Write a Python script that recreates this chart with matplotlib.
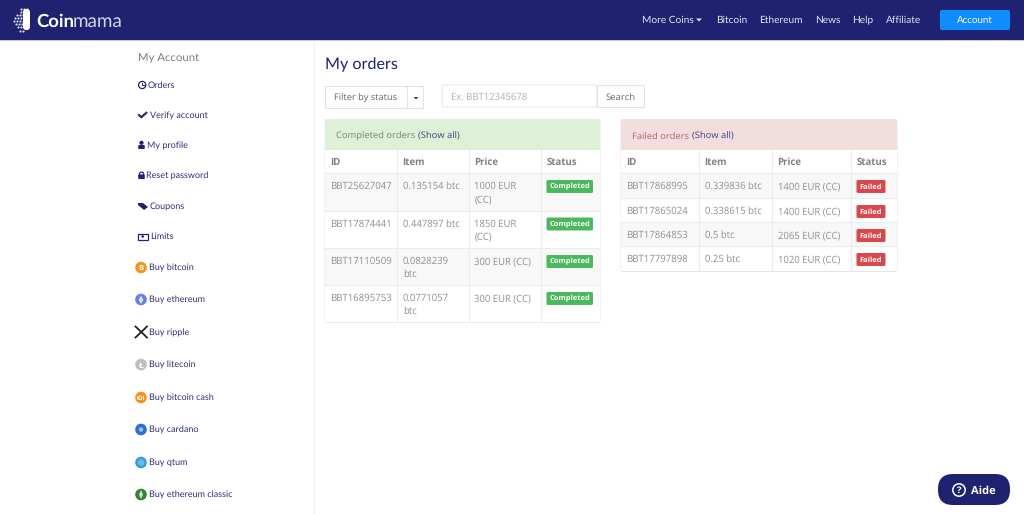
import matplotlib
matplotlib.use("Agg")
import matplotlib.pyplot as plt
from matplotlib.patches import Rectangle, FancyBboxPatch, Circle

# no hinting, the reference text is soft and spaced by fractions of a pixel
plt.rcParams["text.hinting"] = "none"

nav_labels = ["More Coins", "Bitcoin", "Ethereum", "News", "Help", "Affiliate"]
nav_x = [642, 716, 759, 815, 852, 886]

menu_labels = ["Orders", "Verify account", "My profile", "Reset password", "Coupons", "Limits",
               "Buy bitcoin", "Buy ethereum", "Buy ripple", "Buy litecoin", "Buy bitcoin cash",
               "Buy cardano", "Buy qtum", "Buy ethereum classic"]
menu_y = [85, 115, 145, 175, 206, 236, 267, 299, 332, 364, 397, 429, 462, 494]
menu_x = [148, 150, 147, 146, 150, 150, 149, 149, 149, 149, 149, 149, 149, 149]
coin_colors = ["#f7931a", "#627eea", None, "#bebebe", "#f7931a", "#2a6fd6", "#3b9ad9", "#328332"]

table_head = ["ID", "Item", "Price", "Status"]

done_ids = ["BBT25627047", "BBT17874441", "BBT17110509", "BBT16895753"]
done_items = ["0.135154 btc", "0.447897 btc", "0.0828239\nbtc", "0.0771057\nbtc"]
done_prices = ["1000 EUR\n(CC)", "1850 EUR\n(CC)", "300 EUR (CC)", "300 EUR (CC)"]
done_cols = [325, 397, 469, 541, 600]
done_rows = [173, 210.5, 248, 285, 322]

fail_ids = ["BBT17868995", "BBT17865024", "BBT17864853", "BBT17797898"]
fail_items = ["0.339836 btc", "0.338615 btc", "0.5 btc", "0.25 btc"]
fail_prices = ["1400 EUR (CC)", "1400 EUR (CC)", "2065 EUR (CC)", "1020 EUR (CC)"]
fail_cols = [621, 699, 772, 851, 897]
fail_rows = [173, 198, 222, 246, 271]

NAVY = "#1e2270"
GREY = "#8f8f8f"
SANS = "Open Sans"
NAV = "Lato"

fig = plt.figure(figsize=(10.24, 5.14), dpi=100)
ax = fig.add_axes([0, 0, 1, 1])
ax.set_xlim(0, 1024)
ax.set_ylim(514, 0)
ax.axis("off")


def box(x0, y0, x1, y1, color, edge="none", z=1, lw=0.8):
    ax.add_patch(Rectangle((x0, y0), x1 - x0, y1 - y0, fc=color, ec=edge, lw=lw, zorder=z))


def rbox(x0, y0, x1, y1, color, r=2, edge="none", z=3):
    ax.add_patch(FancyBboxPatch((x0 + r, y0 + r), x1 - x0 - 2 * r, y1 - y0 - 2 * r,
                                boxstyle=f"round,pad={r},rounding_size={r}",
                                fc=color, ec=edge, lw=0.8, zorder=z))


def label(x, y, s, size=6.85, color=GREY, family=SANS, weight="normal", ha="left", va="baseline", z=5):
    return ax.text(x, y, s, fontsize=size, color=color, family=family, weight=weight,
                   ha=ha, va=va, zorder=z)


def tri(xs, ys, color):
    ax.fill(xs, ys, fc=color, lw=0, zorder=5)


def cell(x, top, s, size=6.85):
    # wrapped cells go line by line, so each line sits on its own baseline
    for n, line in enumerate(s.split("\n")):
        label(x, top + 16 + 13 * n, line, size=size)


def draw_table(cols, rows, ids, items, prices, status, badge_color, head_color, title, title_color,
               border, badge_w, link_x):
    left, right = cols[0], cols[-1]
    rbox(left - 0.5, 119, right + 0.5, rows[-1] + 1, border, r=2, z=1)
    box(left, 150, right, rows[-1], "white", z=1.5)
    rbox(left, 119.5, right, 152, head_color, r=2, z=2)
    box(left, 149.5, right, 173, "white", z=2.5)
    label(left + 11, 138.5, title, size=6.75, color=title_color)
    label(link_x, 138.5, "(Show all)", size=6.75, color="#3f3f80")
    for c, name in zip(cols, table_head):
        label(c + 5.5, 165, name, size=6.9, color="#808080", weight="bold")
    for i in range(4):
        top, bottom = rows[i], rows[i + 1]
        if i % 2 == 0:
            box(left, top, right, bottom, "#f8f8f8", z=2.5)
        cell(cols[0] + 5.5, top, ids[i], size=6.95)
        cell(cols[1] + 6, top, items[i])
        cell(cols[2] + 5.5, top, prices[i])
        x0 = cols[3] + 5.5
        rbox(x0, top + 7, x0 + badge_w, top + 20, badge_color, r=1.5, z=4)
        label(x0 + badge_w / 2, top + 15.5, status, size=5.4, color="white", weight="bold", ha="center")
    for c in cols[1:-1]:
        ax.plot([c, c], [150, rows[-1]], color="#ececec", lw=0.8, zorder=3)
    for r in rows[:-1]:
        ax.plot([left, right], [r, r], color="#ececec", lw=0.8, zorder=3)


box(0, 0, 1024, 514, "white", z=0)

# top bar
box(0, 0, 1024, 40, NAVY, z=1)
box(0, 40, 1024, 41, "#c9cadb", z=1)

# logo
logo_x = [21, 24, 27, 21, 24, 27, 17, 20, 23, 26, 15, 18, 21, 24, 14, 17, 20, 23, 16, 19, 22, 25, 18, 21, 24, 20, 23]
logo_y = [9, 9, 9, 12, 12, 12, 15, 15, 15, 15, 18, 18, 18, 18, 21, 21, 21, 21, 24, 24, 24, 24, 27, 27, 27, 31, 31]
ax.scatter(logo_x, logo_y, s=2.5, color="#d8d9ea", lw=0, zorder=2)
rbox(23, 9, 30, 30, "white", r=3, z=2)
label(36, 27, "Coin", size=13.3, color="white", family=NAV, weight="bold")
label(72.5, 27, "mama", size=13.6, color="#d5d6e6", family=NAV)

# top nav
for x, s in zip(nav_x, nav_labels):
    label(x, 23, s, size=7.3, color="#e3e3ee", family=NAV)
tri([696, 702, 699], [18.5, 18.5, 21.5], "#e3e3ee")
rbox(940, 10, 1010, 30, "#0f8cff", r=2)
label(975, 23, "Account", size=7.0, color="white", family=NAV, ha="center")

# side menu
box(314, 41, 315, 514, "#eeeeee", z=1)
label(138, 61.5, "My Account", size=8.2, color="#7d7d7d", family=NAV)
for x, y, s in zip(menu_x, menu_y, menu_labels):
    label(x, y + 3, s, size=6.5, color="#2b2f78", family=NAV)

ax.add_patch(Circle((142.2, 85), 3.6, fc="none", ec=NAVY, lw=0.9, zorder=5))
ax.plot([142.2, 142.2, 144], [82.8, 85.3, 85.3], color=NAVY, lw=0.7, zorder=5)
ax.plot([139, 141.3, 146.3], [115, 117.3, 112.8], color=NAVY, lw=1.5, zorder=5)
ax.add_patch(Circle((141.5, 142.8), 2.1, fc=NAVY, zorder=5))
rbox(138.2, 145, 144.8, 149, NAVY, r=1, z=5)
rbox(138.2, 174.5, 144.8, 179, NAVY, r=0.7, z=5)
ax.add_patch(Circle((141.5, 174.2), 2.1, fc="none", ec=NAVY, lw=0.9, zorder=5))
tri([138, 143, 148, 144, 138], [203, 203, 207, 210, 205], NAVY)
box(138, 233.5, 147.5, 239.5, "white", edge=NAVY, z=5, lw=0.9)
ax.add_patch(Circle((142.7, 236.5), 1.3, fc=NAVY, zorder=6))

coin_y = menu_y[6:]
for y, c in zip(coin_y, coin_colors):
    if c is None:
        ax.plot([135.5, 147], [y - 5.5, y + 5.5], color="#222222", lw=1.3, zorder=5)
        ax.plot([135.5, 147], [y + 5.5, y - 5.5], color="#222222", lw=1.3, zorder=5)
    else:
        ax.add_patch(Circle((141, y + 0.5), 5.8, fc=c, zorder=5))
label(141, 270.5, "B", size=5.4, color="white", weight="bold", ha="center", z=6)
ax.fill([141, 143.4, 141, 138.6], [295.5, 300, 304, 300], fc="#dfe5fb", lw=0, zorder=6)
label(141, 367.5, "Ł", size=5.4, color="white", weight="bold", ha="center", family="DejaVu Sans", z=6)
label(141, 399.5, "IOI", size=4.2, color="white", weight="bold", ha="center", z=6)
ax.add_patch(Circle((141, 429.5), 2.2, fc="#9cc0f2", zorder=6))
ax.add_patch(Circle((141, 462.5), 3.2, fc="#6db9e8", zorder=6))
ax.fill([141, 143, 141, 139], [490, 494.5, 499, 494.5], fc="#cde3cd", lw=0, zorder=6)

# page header and filters
label(325, 69, "My orders", size=11.6, color=NAVY, family=NAV)
box(325, 86, 423, 107.5, "white", edge="#e3e3e3", z=2)
ax.plot([406.5, 406.5], [86, 107.5], color="#e3e3e3", lw=0.8, zorder=3)
label(334, 100.5, "Filter by status", size=6.7, color="#666666")
tri([413.5, 418.5, 416], [97, 97, 99.5], "#444444")
rbox(442, 85, 597, 107, "white", r=2, edge="#e8e8e8", z=2)
box(597, 85, 644, 106.5, "white", edge="#e3e3e3", z=2)
label(451, 99.5, "Ex. BBT12345678", size=6.85, color="#b0b0b0")
label(620.5, 99.5, "Search", size=6.8, color="#666666", ha="center")

draw_table(done_cols, done_rows, done_ids, done_items, done_prices, "Completed", "#4cb85c", "#dff0d8",
           "Completed orders", "#6b8d5f", "#e2eedd", 46.5, 417.5)
draw_table(fail_cols, fail_rows, fail_ids, fail_items, fail_prices, "Failed", "#d9474c", "#f2dede",
           "Failed orders", "#b5635f", "#f2e0e0", 29, 691.5)

# help button
rbox(938, 474, 1010, 505, NAVY, r=15, z=5)
ax.add_patch(Circle((959, 490), 6.2, fc="none", ec="white", lw=1.1, zorder=6))
label(959, 493, "?", size=6.8, color="white", weight="bold", ha="center", z=7)
label(971, 494, "Aide", size=8.0, color="white", weight="bold", z=7)

fig.savefig("out.png", dpi=100)
